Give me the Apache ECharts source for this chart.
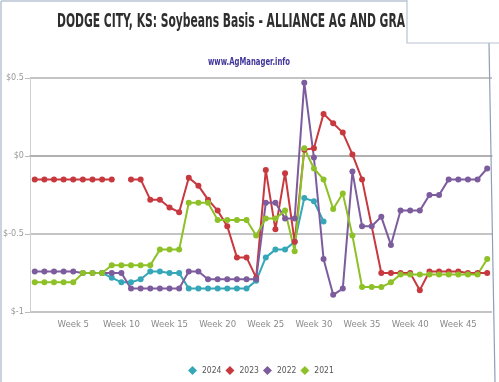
<!DOCTYPE html>
<html><head><meta charset="utf-8">
<script src="https://cdn.jsdelivr.net/npm/echarts@6/dist/echarts.min.js"></script>
<style>html,body{margin:0;padding:0;background:#fff}#c{width:499px;height:382px}</style>
</head><body><div id="c"></div>
<script>
// ---- data ----
const weeks = Array.from({length: 48}, (_, i) => 'Week ' + (i + 1));
const seriesNames = ['2024', '2023', '2022', '2021'];
const colors = ['#35a7b8', '#c8393f', '#7d5c9e', '#8ec127'];
const y2024 = [null, null, null, null, null, null, null,
  -0.75, -0.78, -0.81, -0.81, -0.79, -0.74, -0.74, -0.75, -0.75,
  -0.85, -0.85, -0.85, -0.85, -0.85, -0.85, -0.85,
  -0.80, -0.65, -0.60, -0.60, -0.55, -0.27, -0.29, -0.42,
  null, null, null, null, null, null, null, null, null, null, null, null, null, null, null, null, null];
const y2023 = [-0.15, -0.15, -0.15, -0.15, -0.15, -0.15, -0.15, -0.15, -0.15,
  null, -0.15, -0.15,
  -0.28, -0.28, -0.33, -0.36,
  -0.14, -0.19, -0.28, -0.35, -0.45, -0.65, -0.65, -0.78,
  -0.09, -0.47, -0.11, -0.55,
  0.04, 0.05, 0.27, 0.21, 0.15, 0.01, -0.15,
  null,
  -0.75, -0.75, -0.75, -0.75, -0.86,
  -0.74, -0.74, -0.74, -0.74, -0.75, -0.75, -0.75];
const unreported2023 = [36]; // week missing from series, line passes straight through
const y2022 = [-0.74, -0.74, -0.74, -0.74, -0.74,
  -0.75, -0.75, -0.75, -0.75, -0.75,
  -0.85, -0.85, -0.85, -0.85, -0.85, -0.85,
  -0.74, -0.74,
  -0.79, -0.79, -0.79, -0.79, -0.79, -0.79,
  -0.30, -0.30, -0.40, -0.40,
  0.47, -0.01, -0.66, -0.89, -0.85, -0.10,
  -0.45, -0.45, -0.39, -0.57,
  -0.35, -0.35, -0.35, -0.25, -0.25,
  -0.15, -0.15, -0.15, -0.15, -0.08];
const y2021 = [-0.81, -0.81, -0.81, -0.81, -0.81,
  -0.75, -0.75, -0.75,
  -0.70, -0.70, -0.70, -0.70, -0.70,
  -0.60, -0.60, -0.60,
  -0.30, -0.30, -0.30,
  -0.41, -0.41, -0.41, -0.41,
  -0.51, -0.40, -0.40, -0.35, -0.61,
  0.05, -0.08, -0.15, -0.34, -0.24, -0.51,
  -0.84, -0.84, -0.84, -0.81,
  -0.76, -0.76, -0.76, -0.76, -0.76, -0.76, -0.76, -0.76, -0.76, -0.66];
const yTicks = {min: -1, max: 0.5, interval: 0.5};
const titleText = 'DODGE CITY, KS: Soybeans Basis - ALLIANCE AG AND GRA';
const subText = 'www.AgManager.info';

// ---- build ----
const FONT = '"Liberation Sans Narrow", "DejaVu Sans Condensed", sans-serif';
function toPairs(arr, skip) {
  const out = [];
  arr.forEach((v, i) => {
    if (skip && skip.includes(i + 1)) return;
    out.push([i, v === null ? '-' : v]);
  });
  return out;
}
const mctx = document.createElement('canvas').getContext('2d');
function fitScale(text, font, target) {
  mctx.font = font;
  return target / mctx.measureText(text).width;
}
const titleFont = 'bold 20px ' + FONT;
const subFont = 'bold 11px ' + FONT;
const showWeek = (i) => (i + 1) % 5 === 0;

const chart = echarts.init(document.getElementById('c'), null, {renderer: 'canvas'});
const dataSets = [toPairs(y2024), toPairs(y2023, unreported2023), toPairs(y2022), toPairs(y2021)];
chart.setOption({
  animation: false,
  backgroundColor: '#fff',
  color: colors,
  grid: {left: 27, right: 7, top: 78, bottom: 70, containLabel: false},
  legend: {
    data: seriesNames, left: 183, top: 361, icon: 'diamond',
    itemWidth: 9, itemHeight: 9, itemGap: 4,
    textStyle: {fontSize: 8.5, color: '#555', fontFamily: FONT}
  },
  xAxis: {
    type: 'category', data: weeks, boundaryGap: true,
    axisLine: {lineStyle: {color: '#aaa', width: 1.5}},
    axisTick: {alignWithLabel: true, interval: showWeek, length: 4, lineStyle: {color: '#aaa'}},
    axisLabel: {interval: showWeek, color: '#8a8a8a', fontSize: 9.5, fontFamily: FONT, margin: 8},
    splitLine: {show: false}
  },
  yAxis: {
    type: 'value', min: yTicks.min, max: yTicks.max, interval: yTicks.interval,
    axisLine: {show: true, lineStyle: {color: '#d0d0d0', width: 1}},
    axisTick: {show: true, length: 5, lineStyle: {color: '#bbb'}},
    axisLabel: {formatter: v => '$' + v, color: '#999', fontSize: 9, fontFamily: FONT, margin: 6},
    splitLine: {lineStyle: {color: '#c4c4c4', width: 2}}
  },
  series: seriesNames.map((n, k) => ({
    name: n, type: 'line', data: dataSets[k],
    symbol: 'circle', symbolSize: 6, connectNulls: false,
    lineStyle: {width: 2}, itemStyle: {color: colors[k]},
    emphasis: {disabled: true}
  })),
  graphic: [
    {type: 'text', x: 57, y: 22, scaleX: fitScale(titleText, titleFont, 348), z: 10,
      style: {text: titleText, font: titleFont, fill: '#2e2e2e', align: 'left', verticalAlign: 'middle'}},
    {type: 'text', x: 208, y: 62, scaleX: fitScale(subText, subFont, 82), z: 10,
      style: {text: subText, font: subFont, fill: '#40369a', align: 'left', verticalAlign: 'middle'}},
    {type: 'line', z: 50, shape: {x1: 1, y1: 1, x2: 407, y2: 1}, style: {stroke: '#b9c3d3', lineWidth: 1.5}},
    {type: 'line', z: 50, shape: {x1: 1, y1: 1, x2: 1, y2: 382}, style: {stroke: '#b9c3d3', lineWidth: 1.5}},
    {type: 'rect', z: 60, shape: {x: 407, y: -2, width: 95, height: 45}, style: {fill: '#fff', stroke: '#b9c3d3', lineWidth: 1.2}},
    {type: 'line', z: 50, shape: {x1: 489, y1: 43, x2: 495, y2: 382}, style: {stroke: '#8f9fb8', lineWidth: 1.2}}
  ]
});
</script>
</body></html>
